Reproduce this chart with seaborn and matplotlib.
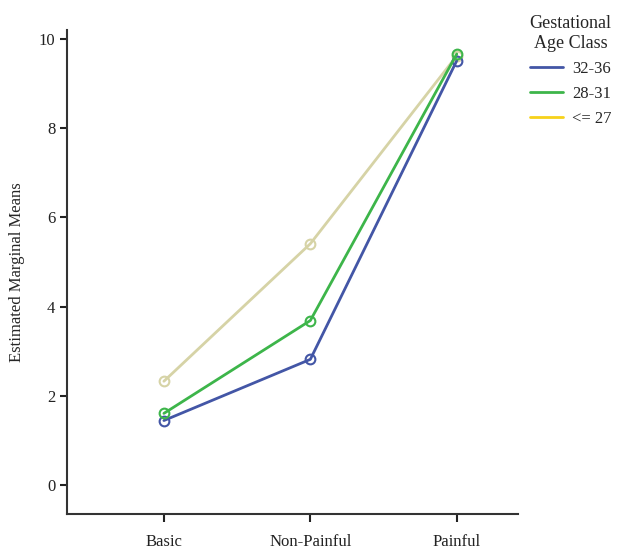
import pandas as pd
import matplotlib.pyplot as plt
import seaborn as sns
from matplotlib.lines import Line2D

# values
conditions = ['Basic', 'Non-Painful', 'Painful']
age_classes = ['32-36', '28-31', '<= 27']
means_32_36 = [1.45, 2.82, 9.51]
means_28_31 = [1.61, 3.69, 9.66]
means_le_27 = [2.33, 5.41, 9.62]

line_colors = {'32-36': '#4356a6', '28-31': '#3db54a', '<= 27': '#d6d3a6'}
legend_colors = {'32-36': '#4356a6', '28-31': '#3db54a', '<= 27': '#f7d21a'}

rows = []
for cls, vals in zip(age_classes, [means_32_36, means_28_31, means_le_27]):
    for i, (c, v) in enumerate(zip(conditions, vals)):
        rows.append({'pos': i, 'Condition': c, 'Age Class': cls, 'Mean': v})
df = pd.DataFrame(rows)

sns.set_style('ticks')
plt.rcParams['font.family'] = ['Liberation Serif', 'DejaVu Serif']

fig = plt.figure(figsize=(6.17, 5.53), dpi=100)
ax = fig.add_axes([0.109, 0.07, 0.731, 0.876])

# pale line first, then blue, then green on top
draw_order = ['<= 27', '32-36', '28-31']
for cls in draw_order:
    sub = df[df['Age Class'] == cls]
    sns.lineplot(data=sub, x='pos', y='Mean', color=line_colors[cls], lw=2,
                 marker='o', markersize=7, markerfacecolor='none',
                 markeredgecolor=line_colors[cls], markeredgewidth=1.5,
                 ax=ax, legend=False)

ax.set_xlim(-0.66, 2.42)
ax.set_ylim(-0.65, 10.2)
ax.set_xticks(range(len(conditions)))
ax.set_xticklabels(conditions, fontsize=12)
ax.set_yticks([0, 2, 4, 6, 8, 10])
ax.tick_params(axis='x', length=6, width=1.5, pad=8, colors='#222222')
ax.tick_params(axis='y', length=5, width=1.5, labelsize=12, colors='#222222')
ax.set_xlabel('')
ax.set_ylabel('Estimated Marginal Means', fontsize=12, labelpad=10)
for s in ['left', 'bottom']:
    ax.spines[s].set_linewidth(1.5)
    ax.spines[s].set_color('#333333')
sns.despine(ax=ax)

handles = [Line2D([0], [0], color=legend_colors[c], lw=2) for c in age_classes]
leg = fig.legend(handles, age_classes, title='Gestational\nAge Class',
                 loc='upper center', bbox_to_anchor=(0.925, 1.0),
                 frameon=False, fontsize=12, title_fontsize=13,
                 handlelength=2.0, handletextpad=0.5, labelspacing=0.55)
leg.get_title().set_multialignment('center')

fig.savefig('out.png', dpi=100)
